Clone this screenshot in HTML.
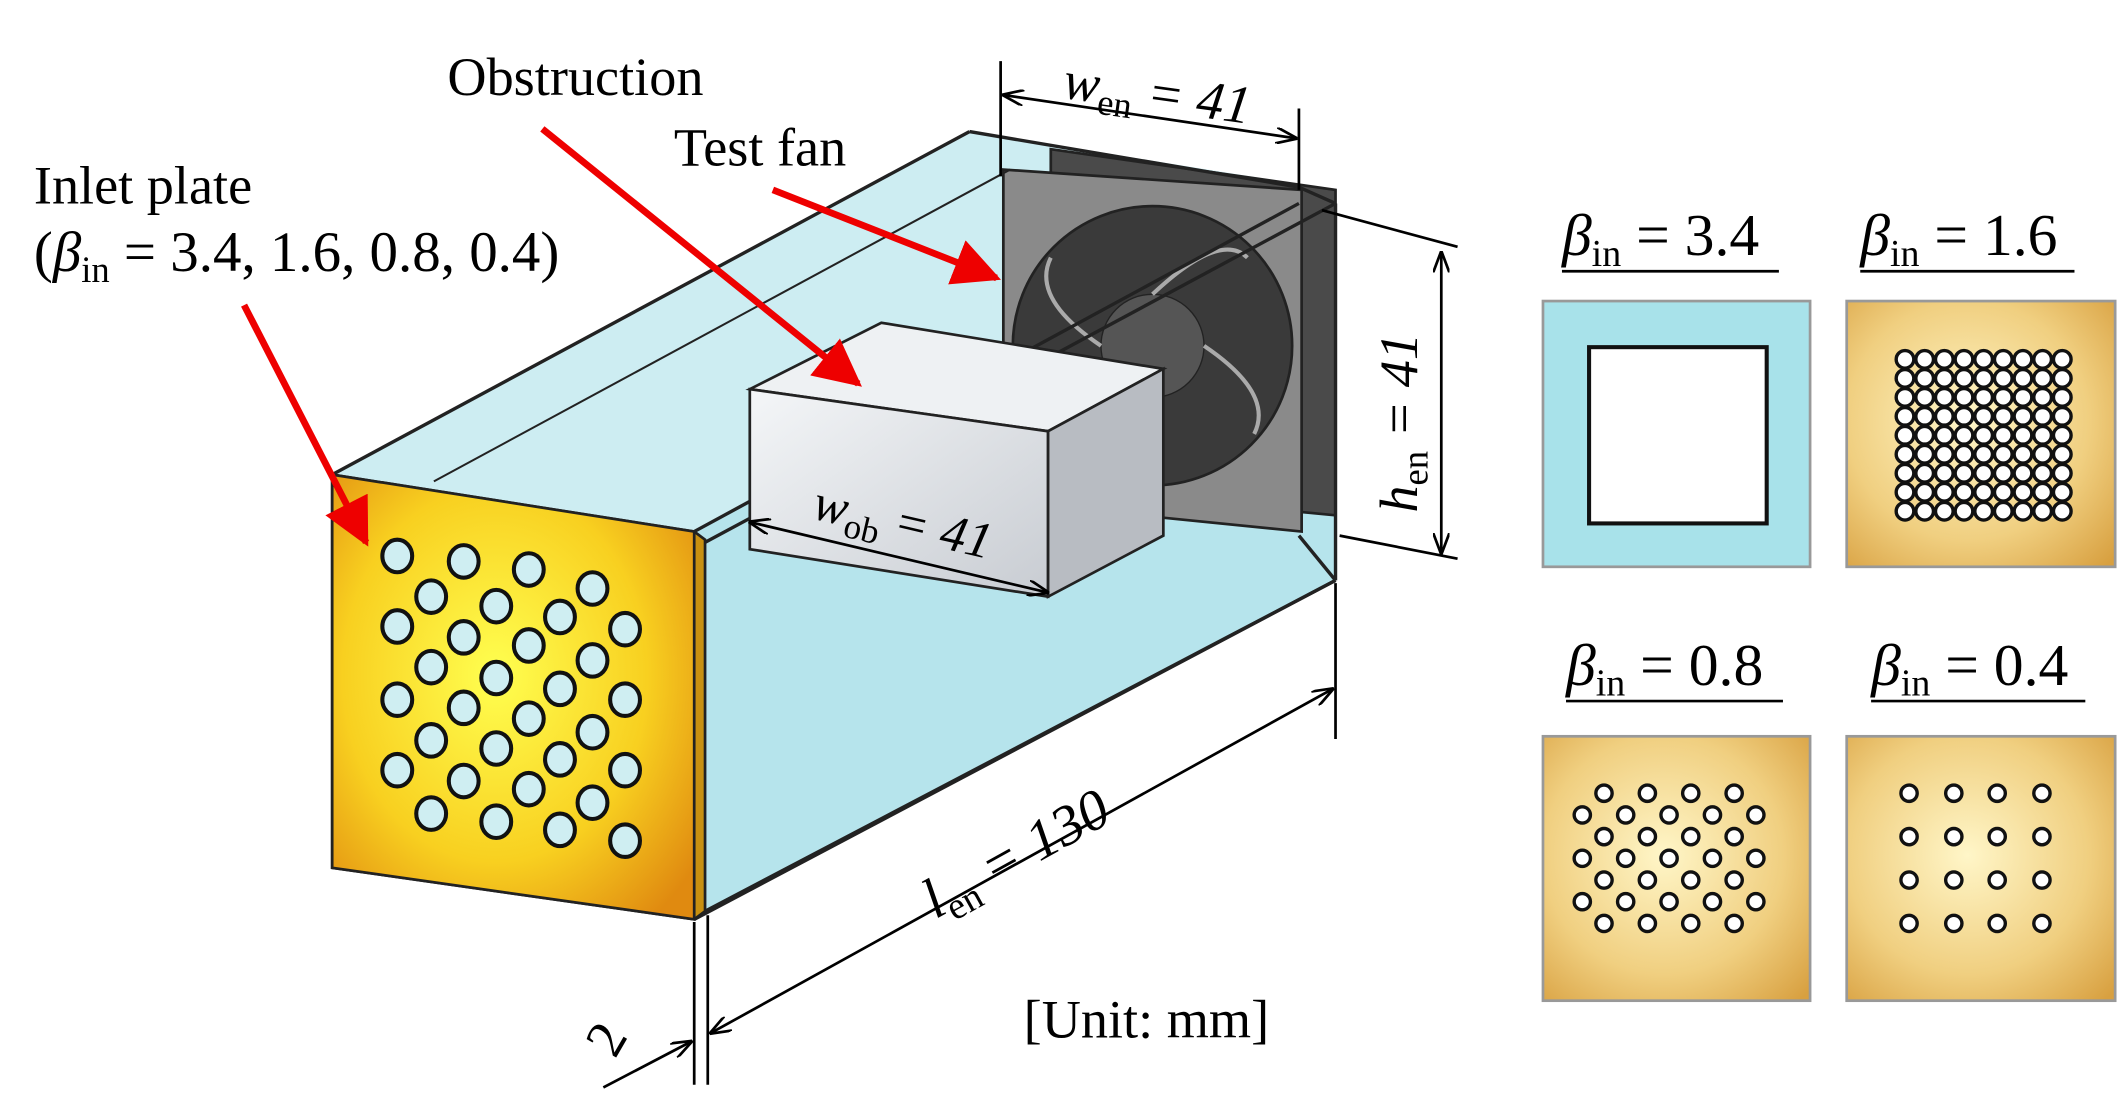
<!DOCTYPE html>
<html><head><meta charset="utf-8"><style>html,body{margin:0;padding:0;background:#fff}svg{display:block}</style></head>
<body>
<svg width="2126" height="1116" viewBox="0 0 1568 823" xmlns="http://www.w3.org/2000/svg" font-family="Liberation Serif, serif">
<defs>
<radialGradient id="yel" cx="0.45" cy="0.45" r="0.7"><stop offset="0" stop-color="#ffff50"/><stop offset="0.6" stop-color="#f8d020"/><stop offset="1" stop-color="#e08a10"/></radialGradient>
<radialGradient id="gold" cx="0.45" cy="0.45" r="0.75"><stop offset="0" stop-color="#fff6c8"/><stop offset="0.6" stop-color="#f0cf80"/><stop offset="1" stop-color="#d8a040"/></radialGradient>
<linearGradient id="box" x1="0" y1="0" x2="1" y2="1"><stop offset="0" stop-color="#f4f6f8"/><stop offset="1" stop-color="#c8ccd2"/></linearGradient>
<marker id="ar" viewBox="0 0 10 10" refX="9" refY="5" markerWidth="7" markerHeight="7" orient="auto-start-reverse"><path d="M0,0 L10,5 L0,10 z" fill="#e00"/></marker>
<marker id="dk" viewBox="0 0 16 12" refX="15" refY="6" markerWidth="16" markerHeight="12" markerUnits="userSpaceOnUse" orient="auto-start-reverse"><path d="M0,0 L16,6 L0,12" fill="none" stroke="#000" stroke-width="2"/></marker>
</defs>

<!-- duct -->
<polygon points="245,350 715,97 985,140 985,428 512,678 512,392" fill="#c4eaf0" opacity="0.85"/>
<polygon points="512,392 985,140 985,428 512,678" fill="#b6e4ec"/>
<!-- fan -->
<polygon points="775,110 985,140 985,380 775,360" fill="#4a4a4a" stroke="#222" stroke-width="2"/>
<polygon points="740,125 960,140 960,392 740,370" fill="#8a8a8a" stroke="#222" stroke-width="2"/>
<circle cx="850" cy="255" r="103" fill="#3a3a3a" stroke="#222" stroke-width="2"/>
<circle cx="850" cy="255" r="38" fill="#555" stroke="#222"/>
<path d="M850,217 Q900,170 920,190 M888,255 Q940,290 925,320 M850,293 Q800,340 780,310 M812,255 Q760,220 775,190" stroke="#aaa" stroke-width="3" fill="none"/>
<!-- duct edges -->
<g stroke="#222" stroke-width="2.5" fill="none">
<line x1="245" y1="350" x2="715" y2="97"/>
<line x1="715" y1="97" x2="958" y2="138"/>
<line x1="958" y1="138" x2="985" y2="150"/>
<line x1="512" y1="392" x2="958" y2="150"/>
<line x1="520" y1="400" x2="985" y2="150"/>
<line x1="985" y1="150" x2="985" y2="428"/>
<line x1="958" y1="395" x2="985" y2="428"/>
<line x1="512" y1="678" x2="985" y2="428"/>
<line x1="520" y1="672" x2="985" y2="428"/>
<line x1="320" y1="355" x2="745" y2="125" stroke-width="1.5"/>
</g>
<!-- obstruction -->
<polygon points="553,287 650,238 858,272 773,318" fill="#eef1f3" stroke="#222" stroke-width="2"/>
<polygon points="553,287 773,318 773,440 553,405" fill="url(#box)" stroke="#222" stroke-width="2"/>
<polygon points="773,318 858,272 858,395 773,440" fill="#b8bcc2" stroke="#222" stroke-width="2"/>
<line x1="553" y1="385" x2="773" y2="437" stroke="#000" stroke-width="2" marker-start="url(#dk)" marker-end="url(#dk)"/>
<text x="598" y="382" font-size="38" font-style="italic" transform="rotate(13 598 382)">w<tspan font-size="26" dy="8" font-style="normal">ob</tspan><tspan dy="-8"> = 41</tspan></text>
<!-- inlet plate -->
<polygon points="245,350 512,392 520,398 520,672 512,678 245,640" fill="#c89010" stroke="#222" stroke-width="2"/>
<polygon points="245,350 512,392 512,678 245,640" fill="url(#yel)" stroke="#222" stroke-width="2"/>
<g fill="#cfeef2" stroke="#111" stroke-width="3">
<ellipse cx="293" cy="410" rx="11" ry="12"/><ellipse cx="342" cy="414" rx="11" ry="12"/><ellipse cx="390" cy="420" rx="11" ry="12"/><ellipse cx="437" cy="434" rx="11" ry="12"/>
<ellipse cx="318" cy="440" rx="11" ry="12"/><ellipse cx="366" cy="447" rx="11" ry="12"/><ellipse cx="413" cy="455" rx="11" ry="12"/><ellipse cx="461" cy="464" rx="11" ry="12"/>
<ellipse cx="293" cy="462" rx="11" ry="12"/><ellipse cx="342" cy="470" rx="11" ry="12"/><ellipse cx="390" cy="476" rx="11" ry="12"/><ellipse cx="437" cy="487" rx="11" ry="12"/>
<ellipse cx="318" cy="492" rx="11" ry="12"/><ellipse cx="366" cy="500" rx="11" ry="12"/><ellipse cx="413" cy="508" rx="11" ry="12"/><ellipse cx="461" cy="516" rx="11" ry="12"/>
<ellipse cx="293" cy="516" rx="11" ry="12"/><ellipse cx="342" cy="522" rx="11" ry="12"/><ellipse cx="390" cy="530" rx="11" ry="12"/><ellipse cx="437" cy="540" rx="11" ry="12"/>
<ellipse cx="318" cy="546" rx="11" ry="12"/><ellipse cx="366" cy="552" rx="11" ry="12"/><ellipse cx="413" cy="560" rx="11" ry="12"/><ellipse cx="461" cy="568" rx="11" ry="12"/>
<ellipse cx="293" cy="568" rx="11" ry="12"/><ellipse cx="342" cy="576" rx="11" ry="12"/><ellipse cx="390" cy="582" rx="11" ry="12"/><ellipse cx="437" cy="592" rx="11" ry="12"/>
<ellipse cx="318" cy="600" rx="11" ry="12"/><ellipse cx="366" cy="606" rx="11" ry="12"/><ellipse cx="413" cy="612" rx="11" ry="12"/><ellipse cx="461" cy="620" rx="11" ry="12"/>
</g>
<!-- red arrows -->
<g stroke="#e00" stroke-width="5" fill="none">
<line x1="400" y1="95" x2="633" y2="283" marker-end="url(#ar)"/>
<line x1="570" y1="140" x2="735" y2="205" marker-end="url(#ar)"/>
<line x1="180" y1="225" x2="270" y2="400" marker-end="url(#ar)"/>
</g>
<!-- dimensions -->
<g stroke="#000" stroke-width="2" fill="none">
<line x1="738" y1="45" x2="738" y2="130"/><line x1="958" y1="80" x2="958" y2="140"/>
<line x1="740" y1="70" x2="956" y2="102" marker-start="url(#dk)" marker-end="url(#dk)"/>
<line x1="975" y1="155" x2="1075" y2="182"/><line x1="988" y1="395" x2="1075" y2="412"/>
<line x1="1063" y1="186" x2="1063" y2="408" marker-start="url(#dk)" marker-end="url(#dk)"/>
<line x1="985" y1="430" x2="985" y2="545"/><line x1="512" y1="680" x2="512" y2="800"/><line x1="522" y1="675" x2="522" y2="800"/>
<line x1="524" y1="762" x2="983" y2="508" marker-start="url(#dk)" marker-end="url(#dk)"/>
<line x1="445" y1="802" x2="510" y2="768" marker-end="url(#dk)"/>
</g>
<g font-size="40" fill="#000">
<text x="330" y="70">Obstruction</text>
<text x="497" y="122">Test fan</text>
<text x="25" y="150">Inlet plate</text>
<text x="25" y="200" font-size="42">(<tspan font-style="italic">β</tspan><tspan font-size="27" dy="8">in</tspan><tspan dy="-8"> = 3.4, 1.6, 0.8, 0.4)</tspan></text>
<text x="755" y="765">[Unit: mm]</text>
<text x="440" y="772" transform="rotate(-60 455 765)">2</text>
<text x="783" y="72" font-style="italic" transform="rotate(8 783 72)">w<tspan font-size="27" dy="8" font-style="normal">en</tspan><tspan dy="-8"> = 41</tspan></text>
<text x="1045" y="378" font-style="italic" transform="rotate(-90 1045 378)">h<tspan font-size="27" dy="8" font-style="normal">en</tspan><tspan dy="-8"> = 41</tspan></text>
<text x="690" y="678" font-style="italic" font-size="42" transform="rotate(-29 690 678)">l<tspan font-size="28" dy="8" font-style="normal">en</tspan><tspan dy="-8"> = 130</tspan></text>
<g font-size="44">
<text x="1152" y="188"><tspan font-style="italic">β</tspan><tspan font-size="28" dy="8">in</tspan><tspan dy="-8"> = 3.4</tspan></text>
<text x="1372" y="188"><tspan font-style="italic">β</tspan><tspan font-size="28" dy="8">in</tspan><tspan dy="-8"> = 1.6</tspan></text>
<text x="1155" y="505"><tspan font-style="italic">β</tspan><tspan font-size="28" dy="8">in</tspan><tspan dy="-8"> = 0.8</tspan></text>
<text x="1380" y="505"><tspan font-style="italic">β</tspan><tspan font-size="28" dy="8">in</tspan><tspan dy="-8"> = 0.4</tspan></text>
</g>
</g>
<g stroke="#000" stroke-width="2">
<line x1="1152" y1="200" x2="1312" y2="200"/><line x1="1372" y1="200" x2="1530" y2="200"/>
<line x1="1155" y1="517" x2="1315" y2="517"/><line x1="1380" y1="517" x2="1538" y2="517"/>
</g>
<!-- panels -->
<rect x="1138" y="222" width="197" height="196" fill="#a8e2ea" stroke="#999" stroke-width="2"/>
<rect x="1172" y="256" width="131" height="130" fill="#fff" stroke="#111" stroke-width="3"/>
<rect x="1362" y="222" width="198" height="196" fill="url(#gold)" stroke="#999" stroke-width="2"/>
<rect x="1138" y="543" width="197" height="195" fill="url(#gold)" stroke="#999" stroke-width="2"/>
<rect x="1362" y="543" width="198" height="195" fill="url(#gold)" stroke="#999" stroke-width="2"/>
<g fill="#fff" stroke="#111" stroke-width="2.5">
<g id="r16">
<circle cx="1405" cy="265" r="6.5"/><circle cx="1419.5" cy="265" r="6.5"/><circle cx="1434" cy="265" r="6.5"/><circle cx="1448.5" cy="265" r="6.5"/><circle cx="1463" cy="265" r="6.5"/><circle cx="1477.5" cy="265" r="6.5"/><circle cx="1492" cy="265" r="6.5"/><circle cx="1506.5" cy="265" r="6.5"/><circle cx="1521" cy="265" r="6.5"/>
</g>
<use href="#r16" y="14"/><use href="#r16" y="28"/><use href="#r16" y="42"/><use href="#r16" y="56"/><use href="#r16" y="70"/><use href="#r16" y="84"/><use href="#r16" y="98"/><use href="#r16" y="112"/>
<g id="a8"><circle cx="1183" cy="585" r="6"/><circle cx="1215" cy="585" r="6"/><circle cx="1247" cy="585" r="6"/><circle cx="1279" cy="585" r="6"/></g>
<g id="b8"><circle cx="1167" cy="601" r="6"/><circle cx="1199" cy="601" r="6"/><circle cx="1231" cy="601" r="6"/><circle cx="1263" cy="601" r="6"/><circle cx="1295" cy="601" r="6"/></g>
<use href="#a8" y="32"/><use href="#a8" y="64"/><use href="#a8" y="96"/>
<use href="#b8" y="32"/><use href="#b8" y="64"/>
<g id="c4"><circle cx="1408" cy="585" r="6"/><circle cx="1441" cy="585" r="6"/><circle cx="1473" cy="585" r="6"/><circle cx="1506" cy="585" r="6"/></g>
<use href="#c4" y="32"/><use href="#c4" y="64"/><use href="#c4" y="96"/>
</g>
</svg>
</body></html>
